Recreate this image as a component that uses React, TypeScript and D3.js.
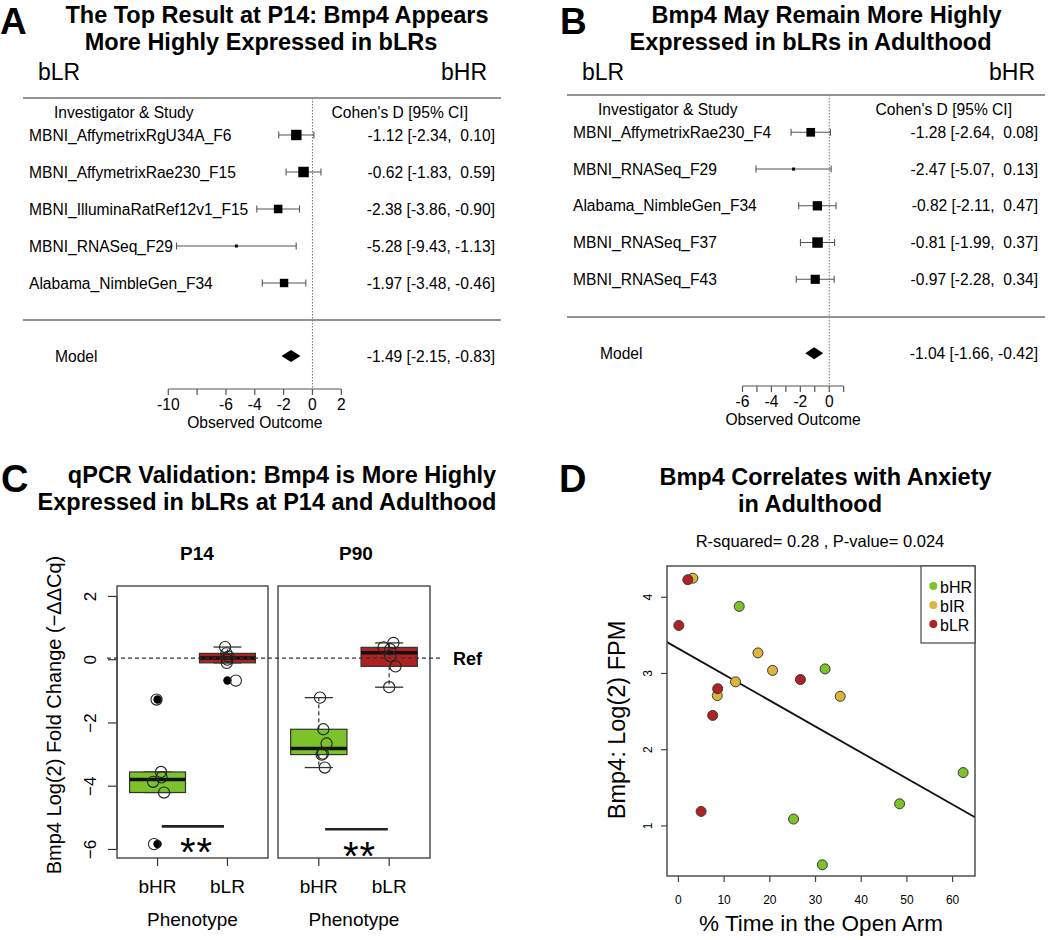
import React from "react";
import * as d3 from "d3";

const FONT = '"Liberation Sans", Arial, Helvetica, sans-serif';

// ---------------- Panel A data ----------------
const studiesA = [
  "MBNI_AffymetrixRgU34A_F6",
  "MBNI_AffymetrixRae230_F15",
  "MBNI_IlluminaRatRef12v1_F15",
  "MBNI_RNASeq_F29",
  "Alabama_NimbleGen_F34",
];
const estA = [-1.12, -0.62, -2.38, -5.28, -1.97];
const loA = [-2.34, -1.83, -3.86, -9.43, -3.48];
const hiA = [0.1, 0.59, -0.9, -1.13, -0.46];
const modelA = [-1.49, -2.15, -0.83];
const ticksA = [-10, -8, -6, -4, -2, 0, 2];
const tickLabelsA = ["-10", "", "-6", "-4", "-2", "0", "2"];
const titleA = ["The Top Result at P14: Bmp4 Appears", "More Highly Expressed in bLRs"];

// ---------------- Panel B data ----------------
const studiesB = [
  "MBNI_AffymetrixRae230_F4",
  "MBNI_RNASeq_F29",
  "Alabama_NimbleGen_F34",
  "MBNI_RNASeq_F37",
  "MBNI_RNASeq_F43",
];
const estB = [-1.28, -2.47, -0.82, -0.81, -0.97];
const loB = [-2.64, -5.07, -2.11, -1.99, -2.28];
const hiB = [0.08, 0.13, 0.47, 0.37, 0.34];
const modelB = [-1.04, -1.66, -0.42];
const ticksB = [-6, -5, -4, -3, -2, -1, 0, 1];
const tickLabelsB = ["-6", "", "-4", "", "-2", "", "0", ""];
const titleB = ["Bmp4 May Remain More Highly", "Expressed in bLRs in Adulthood"];

// ---------------- Panel C data ----------------
const titleC = ["qPCR Validation: Bmp4 is More Highly", "Expressed in bLRs at P14 and Adulthood"];
const ages = ["P14", "P90"];
const phenotypes = ["bHR", "bLR"];
const qpcrP14bHR = [-1.26, -3.55, -3.72, -3.86, -4.2, -5.83];
const qpcrP14bLR = [0.4, 0.2, 0.1, 0.0, -0.1, -0.66];
const qpcrP90bHR = [-1.2, -2.2, -2.65, -2.97, -3.0, -3.41];
const qpcrP90bLR = [0.53, 0.39, 0.33, 0.11, -0.21, -0.87];
const jitterP14bHR = [-0.014, 0.05, 0.057, -0.064, 0.093, -0.05];
const jitterP14bLR = [-0.034, -0.014, 0.014, 0.0, -0.01, 0.12];
const jitterP90bHR = [0.017, 0.064, 0.11, 0.057, 0.04, 0.085];
const jitterP90bLR = [0.06, -0.08, 0.014, 0.014, 0.09, 0.0];
const sigLevels = [-5.27, -5.36];
const refLevel = 0.05;
const yTicksC = [-6, -4, -2, 0, 2];

// ---------------- Panel D data ----------------
const titleD = ["Bmp4 Correlates with Anxiety", "in Adulthood"];
const subtitleD = "R-squared= 0.28 , P-value= 0.024";
const groupsD = ["bHR", "bIR", "bLR"];
const openArmBHR = [13.3, 32.1, 62.3, 48.4, 25.2, 31.5];
const fpmBHR = [3.88, 3.06, 1.7, 1.29, 1.09, 0.49];
const openArmBIR = [3.15, 12.5, 8.5, 17.4, 20.6, 35.4];
const fpmBIR = [4.25, 2.89, 2.71, 3.27, 3.04, 2.7];
const openArmBLR = [2.06, 0.09, 8.59, 7.5, 4.96, 26.7];
const fpmBLR = [4.23, 3.63, 2.8, 2.45, 1.19, 2.92];
const xTicksD = [0, 10, 20, 30, 40, 50, 60];
const yTicksD = [1, 2, 3, 4];

const GREEN = "#7CC22B";
const RED = "#B02122";
const YELLOW = "#DEB53B";

const fmt2 = (v: number) => v.toFixed(2);

function Forest(p: any) {
  const x = d3.scaleLinear().domain(p.xDomain).range(p.xRange);
  const n = p.studies.length;
  const y = d3.scaleLinear().domain([0, n - 1]).range([p.rowTop, p.rowBottom]);
  const inv = p.lo.map((l: number, i: number) => 3.92 / (p.hi[i] - l));
  const size = d3.scaleLinear().domain(d3.extent(inv) as [number, number]).range([3, 10.5]);
  const fs = 15.6;
  const bo = 5.6;
  const gray = "#707070";
  const x0 = x(0);
  const [mE, mL, mH] = p.model;
  const ci = (e: number, l: number, h: number) =>
    `${fmt2(e)} [${fmt2(l).padStart(5, " ")}, ${fmt2(h).padStart(5, " ")}]`;
  const axisCenter = (x(p.ticks[0]) + x(p.ticks[p.ticks.length - 1])) / 2;
  return (
    <g>
      <text x={p.letterX} y={34} fontSize={37} fontWeight="bold">{p.letter}</text>
      {p.title.map((t: string, i: number) => (
        <text key={i} x={p.titleX[i]} y={23 + i * 27} textAnchor="middle" fontSize={23.5} fontWeight="bold">{t}</text>
      ))}
      <text x={p.bLRx} y={80} fontSize={23}>bLR</text>
      <text x={p.bHRx} y={80} fontSize={23} textAnchor="end">bHR</text>
      <line x1={p.lineX[0]} x2={p.lineX[1]} y1={p.topY} y2={p.topY} stroke={gray} strokeWidth={1.6} />
      <line x1={p.lineX[0]} x2={p.lineX[1]} y1={p.sepY} y2={p.sepY} stroke={gray} strokeWidth={1.6} />
      <line x1={x0} x2={x0} y1={p.topY} y2={p.axisY} stroke="#777" strokeWidth={1} strokeDasharray="1.5,1.5" />
      <text x={p.headerX} y={p.headerY + bo} fontSize={fs}>Investigator &amp; Study</text>
      <text x={p.cohenX} y={p.headerY + bo} fontSize={fs} textAnchor="end">Cohen's D [95% CI]</text>
      {p.studies.map((s: string, i: number) => {
        const yy = y(i);
        const sz = size(inv[i]);
        return (
          <g key={s}>
            <text x={p.labelX} y={yy + bo} fontSize={fs}>{s}</text>
            <line x1={x(p.lo[i])} x2={x(p.hi[i])} y1={yy} y2={yy} stroke="#555" strokeWidth={1.1} />
            <line x1={x(p.lo[i])} x2={x(p.lo[i])} y1={yy - 3.5} y2={yy + 3.5} stroke="#555" strokeWidth={1.1} />
            <line x1={x(p.hi[i])} x2={x(p.hi[i])} y1={yy - 3.5} y2={yy + 3.5} stroke="#555" strokeWidth={1.1} />
            <rect x={x(p.est[i]) - sz / 2} y={yy - sz / 2} width={sz} height={sz} fill="#000" />
            <text x={p.valueX} y={yy + bo} fontSize={fs} textAnchor="end" xmlSpace="preserve" style={{ whiteSpace: "pre" }}>
              {ci(p.est[i], p.lo[i], p.hi[i])}
            </text>
          </g>
        );
      })}
      <text x={p.modelX} y={p.modelY + bo} fontSize={fs}>Model</text>
      <path
        d={`M${x(mL)},${p.modelY} L${x(mE)},${p.modelY - 6} L${x(mH)},${p.modelY} L${x(mE)},${p.modelY + 6} Z`}
        fill="#000"
      />
      <text x={p.valueX} y={p.modelY + bo} fontSize={fs} textAnchor="end" xmlSpace="preserve" style={{ whiteSpace: "pre" }}>
        {ci(mE, mL, mH)}
      </text>
      <line x1={x(p.ticks[0])} x2={x(p.ticks[p.ticks.length - 1])} y1={p.axisY} y2={p.axisY} stroke="#555" strokeWidth={1.2} />
      {p.ticks.map((t: number, i: number) => (
        <g key={t}>
          <line x1={x(t)} x2={x(t)} y1={p.axisY} y2={p.axisY + 6} stroke="#555" strokeWidth={1.2} />
          {p.tickLabels[i] && (
            <text x={x(t)} y={p.axisY + 21} fontSize={fs} textAnchor="middle">{p.tickLabels[i]}</text>
          )}
        </g>
      ))}
      <text x={axisCenter} y={p.axisY + 39} fontSize={fs} textAnchor="middle">Observed Outcome</text>
    </g>
  );
}

function boxStats(vals: number[]) {
  const s = [...vals].sort(d3.ascending);
  const n = s.length;
  const n4 = Math.floor((n + 3) / 2) / 2;
  const idx = [1, n4, (n + 1) / 2, n + 1 - n4, n];
  const f = idx.map((d) => 0.5 * (s[Math.floor(d) - 1] + s[Math.ceil(d) - 1]));
  const iqr = f[3] - f[1];
  const inside = s.filter((v) => v >= f[1] - 1.5 * iqr && v <= f[3] + 1.5 * iqr);
  const out = s.filter((v) => v < f[1] - 1.5 * iqr || v > f[3] + 1.5 * iqr);
  return { q1: f[1], med: f[2], q3: f[3], lo: d3.min(inside) as number, hi: d3.max(inside) as number, out };
}

function QPCR() {
  const y = d3.scaleLinear().domain([-6.27, 2.33]).range([858, 586]);
  const panels = [
    { age: ages[0], range: [117, 268], data: [qpcrP14bHR, qpcrP14bLR], jit: [jitterP14bHR, jitterP14bLR], labelX: 197, sig: sigLevels[0], span: [1.06, 1.95], starX: 196, starY: 843 },
    { age: ages[1], range: [278, 430], data: [qpcrP90bHR, qpcrP90bLR], jit: [jitterP90bHR, jitterP90bLR], labelX: 356, sig: sigLevels[1], span: [1.09, 1.98], starX: 359, starY: 847 },
  ];
  const colors = [GREEN, RED];
  return (
    <g>
      <text x={1} y={492} fontSize={38} fontWeight="bold">C</text>
      <text x={282} y={483} textAnchor="middle" fontSize={23.5} fontWeight="bold">{titleC[0]}</text>
      <text x={267} y={510} textAnchor="middle" fontSize={23.5} fontWeight="bold">{titleC[1]}</text>
      {/* y axis */}
      <line x1={117} x2={117} y1={y(yTicksC[0])} y2={y(yTicksC[yTicksC.length - 1])} stroke="#333" strokeWidth={1.2} />
      {yTicksC.map((t) => (
        <g key={t}>
          <line x1={108} x2={117} y1={y(t)} y2={y(t)} stroke="#333" strokeWidth={1.2} />
          <text transform={`translate(${96},${y(t)}) rotate(-90)`} textAnchor="middle" fontSize={17}>
            {t < 0 ? "\u2212" + Math.abs(t) : String(t)}
          </text>
        </g>
      ))}
      <text transform={`translate(61,715) rotate(-90)`} textAnchor="middle" fontSize={20}>
        Bmp4 Log(2) Fold Change (−ΔΔCq)
      </text>
      {panels.map((pn) => {
        const x = d3.scaleLinear().domain([0.42, 2.58]).range(pn.range);
        return (
          <g key={pn.age}>
            <text x={pn.labelX} y={560} textAnchor="middle" fontSize={19} fontWeight="bold">{pn.age}</text>
            {pn.data.map((vals, gi) => {
              const c = gi + 1;
              const st = boxStats(vals);
              const cx = x(c);
              return (
                <g key={gi}>
                  <line x1={cx} x2={cx} y1={y(st.q3)} y2={y(st.hi)} stroke="#333" strokeWidth={1.2} strokeDasharray="4,3" />
                  <line x1={cx} x2={cx} y1={y(st.q1)} y2={y(st.lo)} stroke="#333" strokeWidth={1.2} strokeDasharray="4,3" />
                  <line x1={x(c - 0.2)} x2={x(c + 0.2)} y1={y(st.hi)} y2={y(st.hi)} stroke="#333" strokeWidth={1.3} />
                  <line x1={x(c - 0.2)} x2={x(c + 0.2)} y1={y(st.lo)} y2={y(st.lo)} stroke="#333" strokeWidth={1.3} />
                  <rect x={x(c - 0.4)} y={y(st.q3)} width={x(c + 0.4) - x(c - 0.4)} height={y(st.q1) - y(st.q3)} fill={colors[gi]} stroke="#333" strokeWidth={1.2} />
                  <line x1={x(c - 0.4)} x2={x(c + 0.4)} y1={y(st.med)} y2={y(st.med)} stroke="#111" strokeWidth={3.5} />
                  {st.out.map((o, oi) => (
                    <circle key={oi} cx={cx} cy={y(o)} r={4.2} fill="#000" />
                  ))}
                  {vals.map((v, vi) => (
                    <circle key={"p" + vi} cx={x(c + pn.jit[gi][vi])} cy={y(v)} r={5.6} fill="none" stroke="#222" strokeWidth={1.1} />
                  ))}
                  <line x1={cx} x2={cx} y1={858} y2={866} stroke="#333" strokeWidth={1.2} />
                  <text x={cx} y={893} textAnchor="middle" fontSize={19}>{phenotypes[gi]}</text>
                </g>
              );
            })}
            <line x1={x(pn.span[0])} x2={x(pn.span[1])} y1={y(pn.sig)} y2={y(pn.sig)} stroke="#222" strokeWidth={2.6} />
            <text x={pn.starX - 8.3} y={pn.starY + 23} textAnchor="middle" fontSize={40}>*</text>
            <text x={pn.starX + 8.3} y={pn.starY + 23} textAnchor="middle" fontSize={40}>*</text>
            <rect x={pn.range[0]} y={586} width={pn.range[1] - pn.range[0]} height={272} fill="none" stroke="#444" strokeWidth={1.4} />
            <text x={(pn.range[0] + pn.range[1]) / 2} y={926} textAnchor="middle" fontSize={19}>Phenotype</text>
          </g>
        );
      })}
      <line x1={107} x2={440} y1={y(refLevel)} y2={y(refLevel)} stroke="#333" strokeWidth={1.2} strokeDasharray="4,3" />
      <text x={453} y={y(refLevel) + 6.5} fontSize={18} fontWeight="bold">Ref</text>
    </g>
  );
}

function Scatter() {
  const x = d3.scaleLinear().domain([-2.5, 64.9]).range([667, 975]);
  const y = d3.scaleLinear().domain([0.343, 4.41]).range([876, 566]);
  const xs = [...openArmBHR, ...openArmBIR, ...openArmBLR];
  const ys = [...fpmBHR, ...fpmBIR, ...fpmBLR];
  const mx = d3.mean(xs) as number;
  const my = d3.mean(ys) as number;
  const slope = d3.sum(xs.map((v, i) => (v - mx) * (ys[i] - my))) / d3.sum(xs.map((v) => (v - mx) ** 2));
  const icpt = my - slope * mx;
  const [dx0, dx1] = x.domain();
  const series = [
    { name: "bIR", xs: openArmBIR, ys: fpmBIR, color: YELLOW },
    { name: "bLR", xs: openArmBLR, ys: fpmBLR, color: RED },
    { name: "bHR", xs: openArmBHR, ys: fpmBHR, color: GREEN },
  ];
  const legendColors: Record<string, string> = { bHR: GREEN, bIR: YELLOW, bLR: RED };
  const line = d3.line<number>().x((d) => x(d)).y((d) => y(icpt + slope * d));
  return (
    <g>
      <text x={559} y={492} fontSize={38} fontWeight="bold">D</text>
      <text x={825.5} y={485} textAnchor="middle" fontSize={23.5} fontWeight="bold">{titleD[0]}</text>
      <text x={810} y={512} textAnchor="middle" fontSize={23.5} fontWeight="bold">{titleD[1]}</text>
      <text x={820} y={547} textAnchor="middle" fontSize={16.5}>{subtitleD}</text>
      <defs>
        <clipPath id="clipD">
          <rect x={667} y={566} width={308} height={310} />
        </clipPath>
      </defs>
      <path d={line([dx0, dx1]) as string} stroke="#111" strokeWidth={1.8} fill="none" clipPath="url(#clipD)" />
      {series.map((s) =>
        s.xs.map((v, i) => (
          <circle key={s.name + i} cx={x(v)} cy={y(s.ys[i])} r={5} fill={s.color} stroke="#3a3a3a" strokeWidth={1} />
        ))
      )}
      <rect x={667} y={566} width={308} height={310} fill="none" stroke="#444" strokeWidth={1.4} />
      <rect x={921} y={566} width={54} height={77} fill="#fff" stroke="#444" strokeWidth={1.2} />
      {groupsD.map((g, i) => (
        <g key={g}>
          <circle cx={933.3} cy={586 + i * 19} r={4} fill={legendColors[g]} />
          <text x={940} y={592.5 + i * 19} fontSize={16}>{g}</text>
        </g>
      ))}
      {xTicksD.map((t) => (
        <g key={t}>
          <line x1={x(t)} x2={x(t)} y1={876} y2={882} stroke="#444" strokeWidth={1.2} />
          <text x={x(t)} y={904} textAnchor="middle" fontSize={12}>{t}</text>
        </g>
      ))}
      {yTicksD.map((t) => (
        <g key={t}>
          <line x1={661} x2={667} y1={y(t)} y2={y(t)} stroke="#444" strokeWidth={1.2} />
          <text transform={`translate(652,${y(t)}) rotate(-90)`} textAnchor="middle" fontSize={12}>{t}</text>
        </g>
      ))}
      <text transform={`translate(624.5,720) rotate(-90)`} textAnchor="middle" fontSize={23.5}>Bmp4: Log(2) FPM</text>
      <text x={821} y={931} textAnchor="middle" fontSize={22.5}>% Time in the Open Arm</text>
    </g>
  );
}

export default function App() {
  const A = {
    letter: "A", letterX: 0, title: titleA, titleX: [277, 261], bLRx: 38, bHRx: 487,
    studies: studiesA, est: estA, lo: loA, hi: hiA, model: modelA, ticks: ticksA, tickLabels: tickLabelsA,
    xDomain: [-10, 2], xRange: [168.3, 341.3], rowTop: 135, rowBottom: 283, modelY: 356,
    headerY: 112, topY: 98, sepY: 320, axisY: 389, lineX: [23, 501], labelX: 29, headerX: 54,
    cohenX: 468, modelX: 55, valueX: 495,
  };
  const B = {
    letter: "B", letterX: 560, title: titleB, titleX: [826.5, 810.5], bLRx: 582, bHRx: 1035,
    studies: studiesB, est: estB, lo: loB, hi: hiB, model: modelB, ticks: ticksB, tickLabels: tickLabelsB,
    xDomain: [-6, 1], xRange: [742.5, 843.7], rowTop: 132.3, rowBottom: 279.3, modelY: 353.3,
    headerY: 109, topY: 95, sepY: 317, axisY: 386, lineX: [567, 1045], labelX: 573, headerX: 598,
    cohenX: 1012, modelX: 600, valueX: 1038,
  };
  return (
    <svg width={1050} height={940} style={{ position: "absolute", left: 0, top: 0 }} fontFamily={FONT}>
      <rect width={1050} height={940} fill="#fff" />
      <Forest {...A} />
      <Forest {...B} />
      <QPCR />
      <Scatter />
    </svg>
  );
}
